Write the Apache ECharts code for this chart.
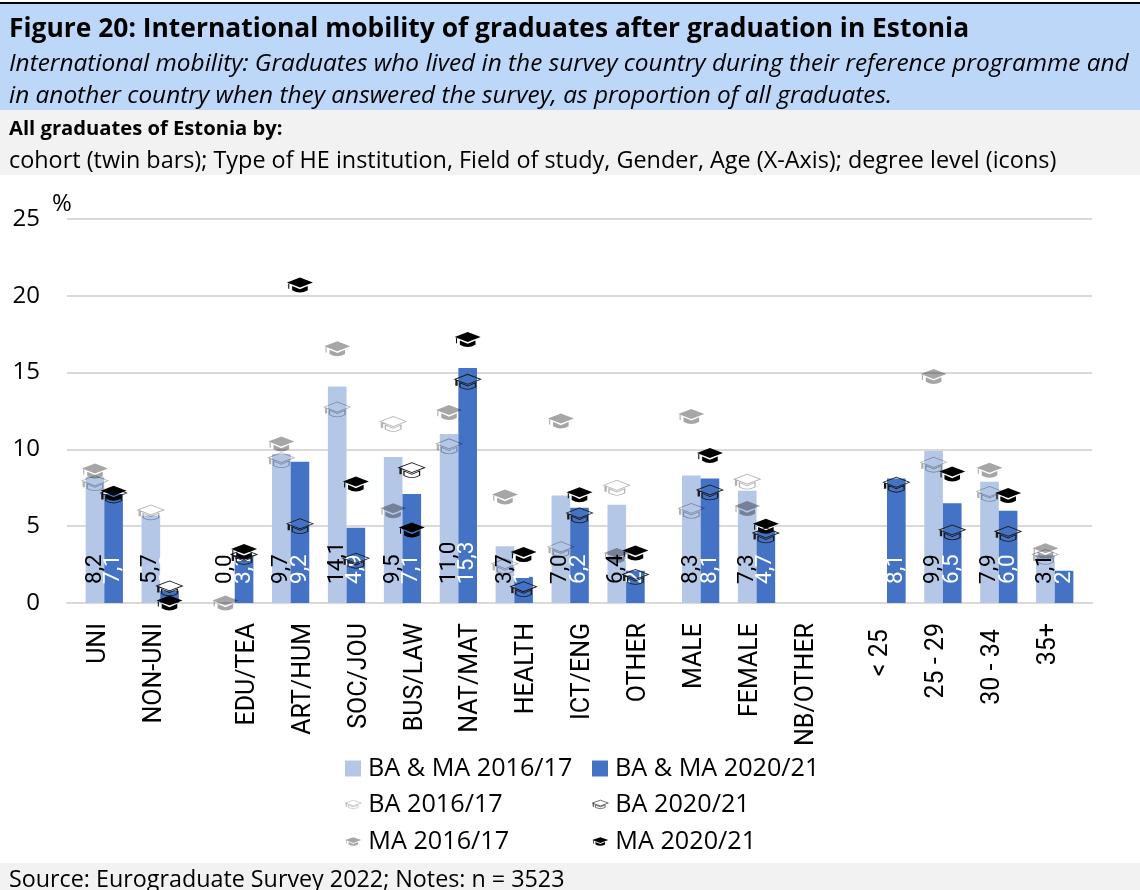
<!DOCTYPE html>
<html>
<head>
<meta charset="utf-8">
<title>Figure 20</title>
<script src="https://cdn.jsdelivr.net/npm/echarts@6/dist/echarts.min.js"></script>
<style>
  html, body { margin: 0; padding: 0; background: #fff; }
  #myChart { width: 1140px; height: 890px; }
</style>
</head>
<body>
<div id="myChart"></div>
<script>
var categories = ['UNI', 'NON-UNI', 'EDU/TEA', 'ART/HUM', 'SOC/JOU', 'BUS/LAW', 'NAT/MAT', 'HEALTH', 'ICT/ENG', 'OTHER', 'MALE', 'FEMALE', 'NB/OTHER', '< 25 ', '25 - 29', '30 - 34 ', '35+']
var barsAll2016 = [8.2, 5.7, 0.0, 9.7, 14.1, 9.5, 11.0, 3.7, 7.0, 6.4, 8.3, 7.3, null, null, 9.9, 7.9, 3.1]
var barsAll2020 = [7.1, 0.8, 3.1, 9.2, 4.9, 7.1, 15.3, 1.7, 6.2, 2.1, 8.1, 4.7, null, 8.1, 6.5, 6.0, 2.1]
var capsBA2016 = [7.8, 5.9, null, 9.3, 12.6, 11.65, 10.2, 2.4, 3.5, 7.5, 6.0, 7.9, null, null, 9.0, 7.1, 3.0]
var capsBA2020 = [7.0, 0.95, 3.0, 5.0, 2.75, 8.65, 14.4, 0.9, 5.7, 1.7, 7.2, 4.4, null, 7.7, 4.6, 4.5, null]
var capsMA2016 = [8.6, null, 0.0, 10.35, 16.55, 6.0, 12.4, 6.9, 11.85, 3.1, 12.15, 6.15, null, null, 14.75, 8.65, 3.4]
var capsMA2020 = [7.15, 0.0, 3.35, 20.7, 7.75, 4.75, 17.15, 3.15, 7.05, 3.25, 9.6, 5.0, null, null, 8.4, 7.0, null]
var yTicks = [0, 5, 10, 15, 20, 25]

var titleLines = [
  { text: 'Figure 20: International mobility of graduates after graduation in Estonia', left: 9, top: 16, size: 26.4, weight: 'bold', style: 'normal' },
  { text: 'International mobility: Graduates who lived in the survey country during their reference programme and', left: 9, top: 52, size: 24.4, weight: 'normal', style: 'italic' },
  { text: 'in another country when they answered the survey, as proportion of all graduates.', left: 9, top: 84, size: 24.4, weight: 'normal', style: 'italic' },
  { text: 'All graduates of Estonia by:', left: 9, top: 119, size: 20.2, weight: 'bold', style: 'normal' },
  { text: 'cohort (twin bars); Type of HE institution, Field of study, Gender, Age (X-Axis); degree level (icons)', left: 9, top: 150, size: 23.4, weight: 'normal', style: 'normal' },
  { text: 'Source: Eurograduate Survey 2022; Notes: n = 3523', left: 9, top: 869, size: 23.3, weight: 'normal', style: 'normal' },
  { text: '%', left: 52, top: 192, size: 24, weight: 'normal', style: 'normal' }
]

var font = 'Open Sans'
var narrowFont = 'Roboto'
var capIcon = 'path://M0,18 L50,0 L100,18 L50,36 Z M20,30 L50,42 L80,30 L80,46 Q50,62 20,46 Z M5,21 L9,22.5 L9,40 L5,40 Z'

// bar groups sit a third of a slot further apart, the axis labels have their own gaps
function slotPositions () {
  return categories.map(function (c, i) {
    if (i < 2) return i
    if (i < 10) return i + 1 / 3
    if (i < 13) return i + 2 / 3
    return i + 1
  })
}
function labelPositions () {
  var nudge = 1 / 16
  return categories.map(function (c, i) {
    if (i < 2) return i - 1 / 6 + nudge
    if (i < 13) return i + 1 / 2 + nudge
    return i + 5 / 6 + nudge
  })
}
var slots = slotPositions()
var labelSlots = labelPositions()

function barData (values) {
  return values.map(function (v, i) { return [slots[i], v] })
}
function capData (values, shift) {
  var out = []
  values.forEach(function (v, i) {
    if (v !== null) out.push([slots[i] + shift, v])
  })
  return out
}
function barSeries (name, values, color, textColor) {
  return {
    name: name,
    type: 'bar',
    z: 2,
    barWidth: 18.63,
    barGap: 0,
    itemStyle: { color: color },
    label: {
      show: true,
      position: 'insideBottom',
      distance: 17,
      offset: [2, 0],
      rotate: 90,
      align: 'left',
      verticalAlign: 'middle',
      color: textColor,
      fontFamily: narrowFont,
      fontSize: 22.5,
      formatter: function (p) { return p.value[1].toFixed(1).replace('.', ',') }
    },
    data: barData(values)
  }
}
function capSeries (name, values, shift, fill, stroke) {
  return {
    name: name,
    type: 'scatter',
    z: 5,
    symbol: capIcon,
    symbolSize: [26, 15],
    itemStyle: { color: fill, borderColor: stroke, borderWidth: stroke === 'transparent' ? 0 : 1, opacity: 1 },
    emphasis: { disabled: true },
    data: capData(values, shift)
  }
}
function legendItem (name, left, top, rect) {
  return {
    left: left,
    top: top,
    padding: 0,
    selectedMode: false,
    itemWidth: 16,
    itemHeight: rect ? 16 : 10,
    textStyle: { fontFamily: font, fontSize: 25.2, color: '#000', padding: [0, 0, 0, 2] },
    data: [rect ? { name: name, icon: 'rect' } : { name: name, itemStyle: { borderWidth: 0.6 } }]
  }
}

var myChart = echarts.init(document.getElementById('myChart'))
myChart.setOption({
  animation: false,
  backgroundColor: '#fff',
  textStyle: { fontFamily: font },
  title: titleLines.map(function (t) {
    return {
      text: t.text,
      left: t.left,
      top: t.top,
      padding: 0,
      textStyle: { fontFamily: font, fontSize: t.size, fontWeight: t.weight, fontStyle: t.style, color: '#000' }
    }
  }),
  graphic: [
    { type: 'rect', shape: { x: 0, y: 2, width: 1140, height: 2 }, style: { fill: '#000' } },
    { type: 'rect', shape: { x: 0, y: 4, width: 1140, height: 106 }, style: { fill: '#bdd7f9' } },
    { type: 'rect', shape: { x: 0, y: 110, width: 1140, height: 65 }, style: { fill: '#f2f2f2' } },
    { type: 'rect', shape: { x: 0, y: 863, width: 1140, height: 27 }, style: { fill: '#f2f2f2' } }
  ],
  legend: [
    legendItem('BA & MA 2016/17', 345, 756, true),
    legendItem('BA & MA 2020/21', 592, 756, true),
    legendItem('BA 2016/17', 345, 792, false),
    legendItem('BA 2020/21', 592, 792, false),
    legendItem('MA 2016/17', 345, 829, false),
    legendItem('MA 2020/21', 592, 829, false)
  ],
  grid: { left: 67, right: 48, top: 219, bottom: 287 },
  xAxis: {
    type: 'value',
    min: -2 / 3,
    max: 17 + 2 / 3,
    splitLine: { show: false },
    axisLine: { show: true, onZero: false, lineStyle: { color: '#d9d9d9', width: 2 } },
    axisTick: { show: false },
    axisLabel: {
      customValues: labelSlots,
      rotate: 90,
      margin: 20,
      color: '#000',
      fontFamily: narrowFont,
      fontSize: 25,
      formatter: function (v) {
        var best = 0
        labelSlots.forEach(function (s, i) {
          if (Math.abs(s - v) < Math.abs(labelSlots[best] - v)) best = i
        })
        return categories[best]
      }
    }
  },
  yAxis: {
    type: 'value',
    min: yTicks[0],
    max: yTicks[yTicks.length - 1],
    interval: yTicks[1] - yTicks[0],
    axisLine: { show: false },
    axisTick: { show: false },
    axisLabel: { margin: 27, padding: [3, 0, 0, 0], color: '#000', fontFamily: font, fontSize: 24 },
    splitLine: { lineStyle: { color: '#d9d9d9', width: 2 } }
  },
  series: [
    barSeries('BA & MA 2016/17', barsAll2016, '#b4c7e7', '#000'),
    barSeries('BA & MA 2020/21', barsAll2020, '#4472c4', '#fff'),
    capSeries('BA 2016/17', capsBA2016, -1 / 6, 'transparent', 'rgba(0,0,0,0.3)'),
    capSeries('BA 2020/21', capsBA2020, 1 / 6, 'transparent', '#1a1a1a'),
    capSeries('MA 2016/17', capsMA2016, -1 / 6, 'rgba(0,0,0,0.35)', 'transparent'),
    capSeries('MA 2020/21', capsMA2020, 1 / 6, '#000', 'transparent')
  ]
})
</script>
</body>
</html>
